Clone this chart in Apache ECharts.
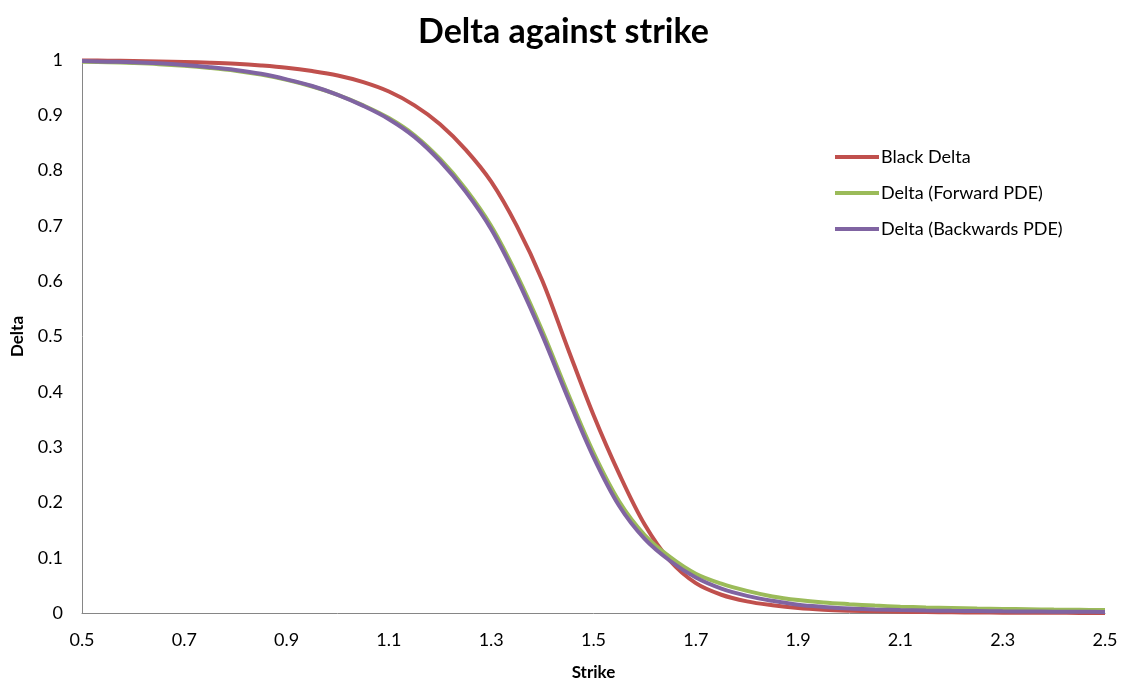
<!DOCTYPE html>
<html>
<head>
<meta charset="utf-8">
<script src="https://cdn.jsdelivr.net/npm/echarts@6/dist/echarts.min.js"></script>
<style>html,body{margin:0;padding:0;background:#fff}#c{width:1127px;height:686px}</style>
</head>
<body>
<div id="c"></div>
<script>
const strikes = [0.50,0.55,0.60,0.65,0.70,0.75,0.80,0.85,0.90,0.95,1.00,1.05,1.10,1.15,1.20,1.25,1.30,1.35,1.40,1.45,1.50,1.55,1.60,1.65,1.70,1.75,1.80,1.85,1.90,1.95,2.00,2.05,2.10,2.15,2.20,2.25,2.30,2.35,2.40,2.45,2.50];
const blackDelta = [0.9991,0.9988,0.9983,0.9975,0.9965,0.995,0.993,0.990,0.986,0.980,0.972,0.960,0.943,0.918,0.884,0.838,0.780,0.700,0.601,0.478,0.358,0.252,0.160,0.094,0.054,0.033,0.021,0.014,0.009,0.006,0.0042,0.003,0.0022,0.0016,0.0012,0.0009,0.0006,0.0004,0.0003,0.0002,0.0001];
const forwardPDE = [0.997,0.996,0.9945,0.9925,0.9895,0.9855,0.9805,0.9735,0.964,0.952,0.937,0.918,0.895,0.864,0.821,0.767,0.700,0.612,0.510,0.397,0.290,0.202,0.141,0.101,0.071,0.053,0.040,0.030,0.0235,0.019,0.016,0.0135,0.0115,0.010,0.009,0.008,0.0074,0.0068,0.0062,0.0058,0.0054];
const backwardPDE = [0.998,0.997,0.996,0.994,0.991,0.987,0.982,0.975,0.965,0.953,0.937,0.917,0.893,0.861,0.817,0.762,0.694,0.605,0.502,0.389,0.282,0.194,0.134,0.094,0.064,0.044,0.031,0.022,0.015,0.011,0.008,0.0065,0.0054,0.0046,0.004,0.0035,0.003,0.0027,0.0024,0.0022,0.002];
const xTicks = [0.5,0.7,0.9,1.1,1.3,1.5,1.7,1.9,2.1,2.3,2.5];
const seriesNames = ['Black Delta','Delta (Forward PDE)','Delta (Backwards PDE)'];

const pairs = arr => strikes.map((s,i)=>[s,arr[i]]);
const font = 'Lato, "Open Sans", sans-serif';
const chart = echarts.init(document.getElementById('c'));
const mk = (name, data, color) => ({
  name, type:'line', data: pairs(data), showSymbol:false, symbol:'none', smooth:0.35,
  lineStyle:{width:4,color}, itemStyle:{color}
});
chart.setOption({
  animation:false,
  backgroundColor:'#fff',
  title:{text:'Delta against strike',left:'center',top:10,textStyle:{fontFamily:font,fontSize:34,fontWeight:'bold',color:'#000'}},
  legend:{orient:'vertical',left:830,top:143,icon:'rect',itemWidth:44,itemHeight:4,itemGap:18,
    data:seriesNames,textStyle:{fontFamily:font,fontSize:18,color:'#000',padding:[0,0,0,-3]}},
  grid:{left:82,right:22,top:60,bottom:73,containLabel:false,outerBoundsMode:'none'},
  xAxis:{type:'value',min:0.5,max:2.5,name:'Strike',nameLocation:'middle',nameGap:51,
    nameTextStyle:{fontFamily:font,fontSize:17,fontWeight:'bold',color:'#000'},
    axisLine:{show:true,onZero:false,lineStyle:{color:'#868686',width:1}},
    axisTick:{show:false},splitLine:{show:false},
    axisLabel:{customValues:xTicks,fontFamily:font,fontSize:18,color:'#000',margin:18,formatter:v=>String(v)}},
  yAxis:{type:'value',min:0,max:1,interval:0.1,name:'Delta',nameLocation:'middle',nameGap:56,
    nameTextStyle:{fontFamily:font,fontSize:17,fontWeight:'bold',color:'#000'},
    axisLine:{show:true,lineStyle:{color:'#868686',width:1}},
    axisTick:{show:false},splitLine:{show:false},
    axisLabel:{fontFamily:font,fontSize:18,color:'#000',margin:19,formatter:v=>String(Math.round(v*10)/10)}},
  series:[
    mk(seriesNames[0], blackDelta, '#C0504D'),
    mk(seriesNames[1], forwardPDE, '#9BBB59'),
    mk(seriesNames[2], backwardPDE, '#8064A2')
  ]
});
</script>
</body>
</html>
